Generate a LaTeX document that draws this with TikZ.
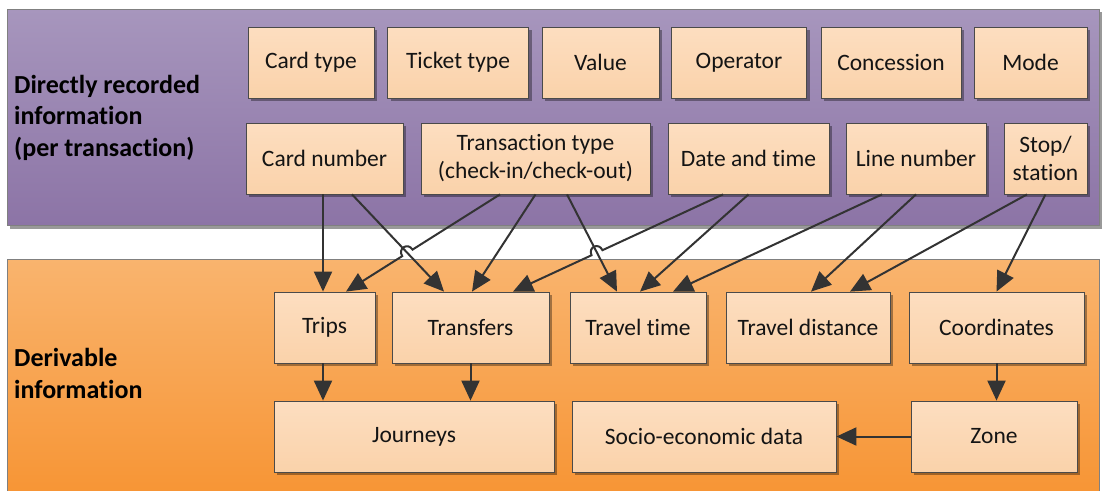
\documentclass[tikz,border=0pt]{standalone}
\usepackage{fontspec}
\setmainfont{Carlito}[Ligatures=NoCommon]
\usetikzlibrary{arrows.meta,calc,shadows}
\definecolor{purtop}{HTML}{A796BD}
\definecolor{purbot}{HTML}{8C74A6}
\definecolor{ortop}{HTML}{F9B46E}
\definecolor{orbot}{HTML}{F79535}
\definecolor{boxtop}{HTML}{FDDEC0}
\definecolor{boxbot}{HTML}{FAD2AA}
\definecolor{boxline}{HTML}{4A4A4A}
\definecolor{panelline}{HTML}{808080}
\definecolor{arrcol}{HTML}{333333}
\definecolor{txt}{HTML}{141414}
\begin{document}
\begin{tikzpicture}[x=1pt,y=-1pt,
  box/.style={draw=boxline, line width=0.8pt, top color=boxtop, bottom color=boxbot,
    minimum height=71pt, inner sep=0pt, align=center, text=txt,
    font=\fontsize{23.5}{28}\selectfont,
    drop shadow={shadow xshift=3pt, shadow yshift=-3pt, opacity=0.35, fill=black}},
  lbl/.style={anchor=base west, align=left, inner sep=0pt, text=black,
    font=\fontsize{26}{31.5}\selectfont\bfseries},
  arr/.style={draw=arrcol, line width=2pt, -{Triangle[length=20pt,width=18pt]}}]
\useasboundingbox (0,0) rectangle (1102,490);
% panels
\fill[black!40] (10,12) rectangle (1102,229);
\path[draw=panelline, line width=0.8pt, top color=purtop, bottom color=purbot] (7,9) rectangle (1099,225);
\path[draw=panelline, line width=0.8pt, top color=ortop, bottom color=orbot] (7,259) rectangle (1099,493);
\node[lbl] (lblrec) at (14,156) {Directly recorded\\information\\(per transaction)};
\node[lbl] (lblder) at (14,398) {Derivable\\information};
% top row
\node[box, minimum width=126pt] (cardtype) at (311,62.5) {Card type};
\node[box, minimum width=141pt] (tickettype) at (458,62.5) {Ticket type};
\node[box, minimum width=117pt] (value) at (600.5,62.5) {Value};
\node[box, minimum width=135pt] (operator) at (739,62.5) {Operator};
\node[box, minimum width=140pt] (concession) at (891,62.5) {Concession};
\node[box, minimum width=113pt] (mode) at (1030.5,62.5) {Mode};
% second row
\node[box, minimum width=157pt] (cardnum) at (324.5,158.5) {Card number};
\node[box, minimum width=229pt] (trans) at (535.5,158.5) {Transaction type\\(check-in/check-out)};
\node[box, minimum width=161pt] (date) at (748.5,158.5) {Date and time};
\node[box, minimum width=140pt] (line) at (916,158.5) {Line number};
\node[box, minimum width=83pt] (stop) at (1045.5,158.5) {Stop/\\station};
% third row
\node[box, minimum width=101pt] (trips) at (324.5,327.5) {Trips};
\node[box, minimum width=157pt] (transfers) at (470.5,327.5) {Transfers};
\node[box, minimum width=136pt] (traveltime) at (638,327.5) {Travel time};
\node[box, minimum width=164pt] (traveldist) at (808,327.5) {Travel distance};
\node[box, minimum width=175pt] (coords) at (996.5,327.5) {Coordinates};
% fourth row
\node[box, minimum width=280pt] (journeys) at (414,436.5) {Journeys};
\node[box, minimum width=264pt] (socio) at (704,436.5) {Socio-economic data};
\node[box, minimum width=166pt] (zone) at (994,436.5) {Zone};
% connectors
\draw[arr] ([xshift=-1.5pt]cardnum.south) -- ([xshift=-1.5pt]trips.north);
\draw[arr] ([xshift=27.5pt]cardnum.south) -- ([xshift=-26.5pt]transfers.north);
\draw[arr] (trans.south) -- ([xshift=1.5pt]transfers.north);
\coordinate (ja) at ([xshift=-35.5pt]trans.south);
\coordinate (jb) at ([xshift=21.5pt]trips.north);
\draw[arr] (ja) -- ($(ja)!0.568!(jb)$)
  .. controls ($(ja)!0.568!(jb)!9pt!-90:(jb)$) and ($(ja)!0.635!(jb)!9pt!90:(ja)$)
  .. ($(ja)!0.635!(jb)$) -- (jb);
\draw[arr] ([xshift=31.5pt]trans.south) -- ([xshift=-21pt]traveltime.north);
\coordinate (ka) at ([xshift=-25.5pt]date.south);
\coordinate (kb) at ([xshift=42.5pt]transfers.north);
\draw[arr] (ka) -- ($(ka)!0.574!(kb)$)
  .. controls ($(ka)!0.574!(kb)!9pt!-90:(kb)$) and ($(ka)!0.626!(kb)!9pt!90:(ka)$)
  .. ($(ka)!0.626!(kb)$) -- (kb);
\draw[arr] (date.south) -- ([xshift=2pt]traveltime.north);
\draw[arr] ([xshift=-34pt]line.south) -- ([xshift=35pt]traveltime.north);
\draw[arr] (line.south) -- ([xshift=3pt]traveldist.north);
\draw[arr] ([xshift=-18.5pt]stop.south) -- ([xshift=42pt]traveldist.north);
\draw[arr] (stop.south) -- (coords.north);
\draw[arr] ([xshift=-1.5pt]trips.south) -- ([xshift=-1.5pt]trips.south |- journeys.north);
\draw[arr] (transfers.south) -- (transfers.south |- journeys.north);
\draw[arr] (coords.south) -- (coords.south |- zone.north);
\draw[arr] (zone.west) -- (socio.east);
\end{tikzpicture}
\end{document}
